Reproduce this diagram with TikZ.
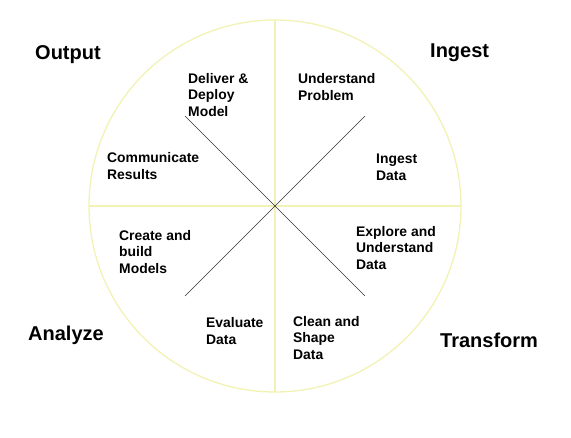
\documentclass[tikz,border=0pt]{standalone}
\usepackage{fontspec}
\setmainfont{Liberation Sans}
\usepackage{xcolor}
\usetikzlibrary{positioning}

\definecolor{paleyellow}{HTML}{F2F2B4}

\begin{document}
\begin{tikzpicture}[
    x=1pt, y=-1pt,
    axis/.style={draw=paleyellow, line width=2pt},
    rim/.style={draw=paleyellow, line width=1.3pt},
    diag/.style={draw=black!80, line width=0.6pt},
    phasetitle/.style={anchor=west, inner sep=0pt, font=\bfseries\fontsize{20}{23}\selectfont},
    stagetext/.style={anchor=west, inner sep=0pt, align=left, font=\bfseries\fontsize{13.9}{16.7}\selectfont}
]
    \useasboundingbox (0,0) rectangle (571,437);
    \coordinate (hub) at (275,206);

    % Wheel
    \draw[rim] (hub) circle[radius=186];
    \draw[axis] ([yshift=186pt]hub) -- ([yshift=-186pt]hub);
    \draw[axis] ([xshift=-186pt]hub) -- ([xshift=186pt]hub);
    \draw[diag] ([shift={(-90,-90)}]hub) -- ([shift={(90,90)}]hub);
    \draw[diag] ([shift={(90,-90)}]hub) -- ([shift={(-90,90)}]hub);

    % Phases
    \node[phasetitle] (output) at (35,55) {Output};
    \node[phasetitle] (ingest) at (430,53) {Ingest};
    \node[phasetitle] (analyze) at (28,335) {Analyze};
    \node[phasetitle] (transform) at (440,340) {Transform};

    % Stages
    \node[stagetext] (deliver) at (188,95) {Deliver \&\\Deploy\\Model};
    \node[stagetext] (problem) at (298,87) {Understand\\Problem};
    \node[stagetext] (communicate) at (107,166) {Communicate\\Results};
    \node[stagetext] (ingestdata) at (376,167) {Ingest\\Data};
    \node[stagetext] (models) at (119,252) {Create and\\build\\Models};
    \node[stagetext] (explore) at (356,248) {Explore and\\Understand\\Data};
    \node[stagetext] (evaluate) at (206,331) {Evaluate\\Data};
    \node[stagetext] (clean) at (293,338) {Clean and\\Shape\\Data};
\end{tikzpicture}
\end{document}
